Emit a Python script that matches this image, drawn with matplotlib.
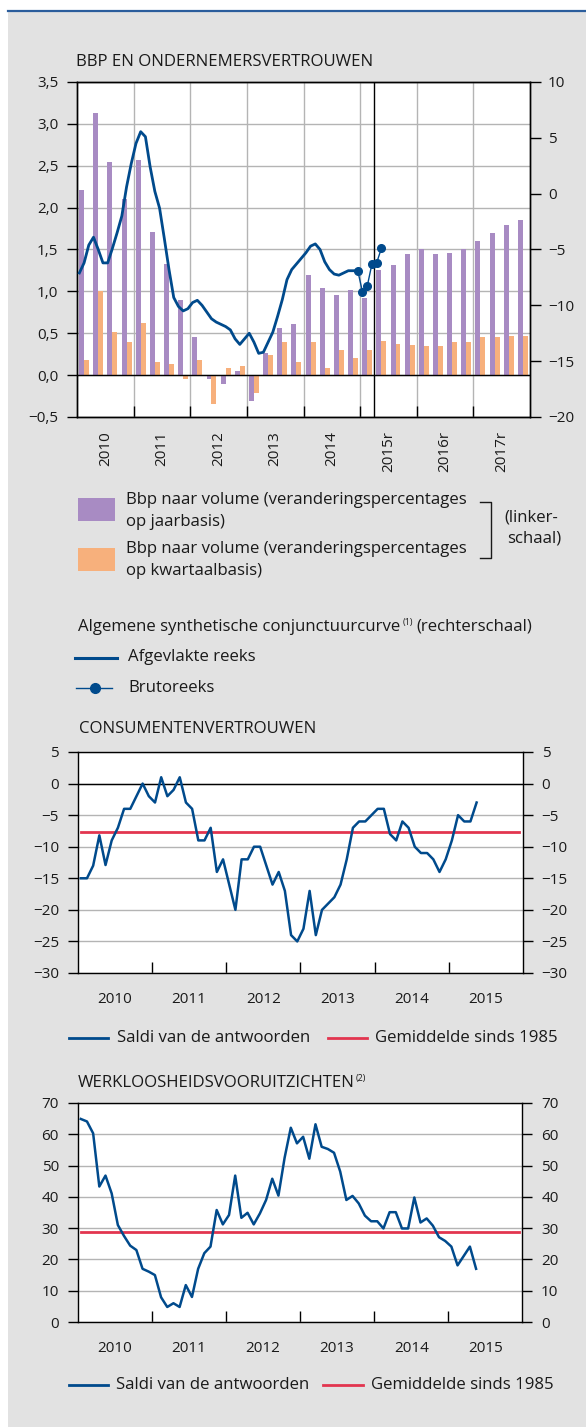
import matplotlib.pyplot as plt
import numpy as np
from matplotlib.patches import Rectangle
from matplotlib.ticker import FuncFormatter

plt.rcParams['font.family'] = ['Open Sans', 'DejaVu Sans']
plt.rcParams['font.size'] = 12.1
plt.rcParams['axes.unicode_minus'] = True

# ---- data ----
gdp_years = ["2010", "2011", "2012", "2013", "2014", "2015r", "2016r", "2017r"]
# quarterly, Q1 2010 - Q4 2017
gdp_yoy = [2.21, 3.13, 2.54, 2.10, 2.57, 1.71, 1.33, 0.90,
           0.45, -0.05, -0.11, 0.05, -0.31, 0.26, 0.56, 0.61,
           1.20, 1.04, 0.96, 1.02, 0.92, 1.25, 1.31, 1.45,
           1.50, 1.45, 1.46, 1.50, 1.60, 1.70, 1.79, 1.85]
gdp_qoq = [0.18, 1.01, 0.52, 0.39, 0.62, 0.16, 0.13, -0.05,
           0.18, -0.34, 0.09, 0.11, -0.21, 0.24, 0.39, 0.16,
           0.39, 0.09, 0.30, 0.21, 0.30, 0.41, 0.37, 0.36,
           0.35, 0.35, 0.39, 0.40, 0.45, 0.45, 0.47, 0.47]
# monthly, Jan 2010 - Dec 2014
conj_smooth = [-7.1, -6.2, -4.6, -3.9, -5.0, -6.2, -6.2, -4.9, -3.5, -2.0, 0.6, 2.7,
               4.5, 5.55, 5.1, 2.4, 0.2, -1.3, -4.0, -6.8, -9.3, -10.1, -10.5, -10.3,
               -9.75, -9.55, -10.0, -10.6, -11.2, -11.5, -11.7, -11.9, -12.2, -13.0, -13.5, -13.0,
               -12.5, -13.3, -14.3, -14.2, -13.3, -12.4, -11.0, -9.5, -7.7, -6.8, -6.3, -5.8,
               -5.3, -4.7, -4.5, -5.0, -6.1, -6.8, -7.2, -7.3, -7.1, -6.9, -6.9, -6.9]
# monthly, Dec 2014 - May 2015
conj_raw = [-6.9, -8.8, -8.3, -6.3, -6.2, -4.9]

conf_years = ["2010", "2011", "2012", "2013", "2014", "2015"]
# monthly, Jan 2010 - May 2015
consumer_conf = [-15, -15, -13, -8.2, -12.9, -9, -7, -4, -4, -2, 0, -2,
                 -3, 1, -2, -1, 1, -3, -4, -9, -9, -7, -14, -12,
                 -16, -20, -12, -12, -10, -10, -13, -16, -14, -17, -24, -25,
                 -23, -17, -24, -20, -19, -18, -16, -12, -7, -6, -6, -5,
                 -4, -4, -8, -9, -6, -7, -10, -11, -11, -12, -14, -12,
                 -9, -5, -6, -6, -3]
consumer_avg = -7.7
unemp_exp = [64.9, 64.1, 60.3, 43.3, 46.8, 41.1, 31.0, 27.5, 24.4, 23.0, 17.0, 16.1,
             15.0, 7.9, 4.8, 6.0, 4.8, 11.8, 8.0, 17.0, 22.0, 24.1, 35.8, 31.2,
             34.2, 46.8, 33.3, 34.9, 31.2, 34.7, 39.0, 45.8, 40.4, 52.5, 62.1, 57.1,
             59.2, 52.2, 63.2, 56.0, 55.3, 54.1, 48.1, 39.0, 40.3, 37.9, 34.0, 32.2,
             32.2, 29.9, 35.1, 35.1, 29.9, 29.9, 39.8, 31.8, 33.1, 30.8, 27.1, 25.9,
             24.1, 18.1, 21.1, 24.1, 17.0]
unemp_avg = 28.8

PURPLE = '#a88bc3'
ORANGE = '#f7b07c'
BLUE = '#004a8c'
RED = '#e2354f'
GRID = '#b4b4b4'
BG = '#e2e2e2'
TXT = '#1a1a1a'
TICK_FS = 11

W, H = 586, 1427
fig = plt.figure(figsize=(W / 100, H / 100), dpi=100)


def box(l, t, r, b):
    return [l / W, 1 - b / H, (r - l) / W, (b - t) / H]


def comma(v, pos):
    s = f"{v:.1f}".replace('.', ',')
    return s.replace('-', '\u2212')


def minus(v, pos):
    return f"{v:.0f}".replace('-', '\u2212')


# background layer in pixel coordinates
bg = fig.add_axes([0, 0, 1, 1], zorder=0)
bg.set_xlim(0, W)
bg.set_ylim(H, 0)
bg.axis('off')
bg.add_patch(Rectangle((8, 12), W - 8, H - 12, color=BG, lw=0))
bg.plot([8, W], [11, 11], color='#2b5d9c', lw=1.6)

renderer = fig.canvas.get_renderer()


def right_end(txt):
    bb = txt.get_window_extent(renderer)
    return bg.transData.inverted().transform((bb.x1, bb.y1))[0]


def text_with_sup(x, y, main, sup, rest=None):
    t = bg.text(x, y, main, va='center', color=TXT)
    xs = right_end(t) + 1.5
    s = bg.text(xs, y - 4.5, sup, fontsize=6.5, va='center', color=TXT)
    if rest:
        bg.text(right_end(s) + 4, y, rest, va='center', color=TXT)


def style_box(ax):
    for sp in ax.spines.values():
        sp.set_color('black')
        sp.set_linewidth(1)


# ---------- chart 1 ----------
ax1 = fig.add_axes(box(77, 82, 530, 417), zorder=2)
q = np.arange(len(gdp_yoy))
ax1.bar(q + 0.5 - 0.175, gdp_yoy, 0.35, color=PURPLE, lw=0, zorder=2)
ax1.bar(q + 0.5 + 0.175, gdp_qoq, 0.35, color=ORANGE, lw=0, zorder=2)
ax1.set_xlim(0, 32)
ax1.set_ylim(-0.5, 3.5)
ax1.set_yticks(np.arange(-0.5, 3.51, 0.5))
ax1.yaxis.set_major_formatter(FuncFormatter(comma))
ax1.set_xticks(np.arange(4, 32, 4))
ax1.set_xticks(np.arange(len(gdp_years)) * 4 + 2, gdp_years, minor=True)
ax1.grid(True, which='major', color=GRID, lw=1)
ax1.set_axisbelow(True)
ax1.axhline(0, color='black', lw=1, zorder=3)
ax1.axvline(21, color='black', lw=1, zorder=3)
ax1.tick_params(axis='x', which='major', direction='in', length=8, width=1, labelbottom=False)
ax1.tick_params(axis='x', which='minor', length=0, rotation=90, pad=10, labelsize=TICK_FS, labelcolor=TXT)
ax1.tick_params(axis='y', direction='out', length=7.5, width=1, pad=6, labelsize=TICK_FS, labelcolor=TXT)
style_box(ax1)

ax2 = ax1.twinx()
ax2.set_ylim(-20, 10)
ax2.set_yticks(np.arange(-20, 11, 5))
ax2.yaxis.set_major_formatter(FuncFormatter(minus))
ax2.tick_params(axis='y', direction='out', length=8, width=1, pad=5, labelsize=TICK_FS, labelcolor=TXT)
m_s = (np.arange(len(conj_smooth)) + 0.5) / 3
ax2.plot(m_s, conj_smooth, color=BLUE, lw=2, solid_joinstyle='round', zorder=4)
m_r = (np.arange(len(conj_raw)) + len(conj_smooth) - 1 + 0.5) / 3
ax2.plot(m_r, conj_raw, color=BLUE, lw=1, marker='o', ms=5.5, zorder=5)
style_box(ax2)

bg.text(76, 61.5, "BBP EN ONDERNEMERSVERTROUWEN", va='center', color=TXT)

# legend of chart 1
bg.add_patch(Rectangle((78.3, 498.3), 36.7, 22.4, color=PURPLE, lw=0))
bg.add_patch(Rectangle((78.3, 548.3), 36.7, 22.4, color=ORANGE, lw=0))
bg.text(126.3, 500, "Bbp naar volume (veranderingspercentages", va='center', color=TXT)
bg.text(126.3, 521.7, "op jaarbasis)", va='center', color=TXT)
bg.text(126.3, 549.3, "Bbp naar volume (veranderingspercentages", va='center', color=TXT)
bg.text(126.3, 571, "op kwartaalbasis)", va='center', color=TXT)
bg.plot([479.5, 490.7, 490.7, 479.5], [501.7, 501.7, 557.7, 557.7], color=TXT, lw=1)
bg.text(504.5, 517.7, "(linker-", va='center', color=TXT)
bg.text(507, 538.5, "schaal)", va='center', color=TXT)

text_with_sup(78.5, 626.7, "Algemene synthetische conjunctuurcurve", "(1)", "(rechterschaal)")
bg.plot([74.7, 116.6], [657.7, 657.7], color=BLUE, lw=2.2)
bg.text(128, 656.7, "Afgevlakte reeks", va='center', color=TXT)
bg.plot([75.5, 112], [688.3, 688.3], color=BLUE, lw=1)
bg.plot([95.3], [688.3], color=BLUE, marker='o', ms=7)
bg.text(128, 688, "Brutoreeks", va='center', color=TXT)


def monthly_chart(top, bottom, right, values, avg, ylo, yhi, step, zero_line):
    ax = fig.add_axes(box(77.7, top, right, bottom), zorder=2)
    x = 2010 + (np.arange(len(values)) + 0.5) / 12
    ax.plot(x, values, color=BLUE, lw=1.8, zorder=4)
    ax.axhline(avg, xmin=0.008, xmax=0.992, color=RED, lw=2, zorder=3)
    if zero_line:
        ax.axhline(0, color='black', lw=1, zorder=3)
    ax.set_xlim(2010, 2016)
    ax.set_ylim(ylo, yhi)
    ax.set_yticks(np.arange(ylo, yhi + 0.1, step))
    ax.yaxis.set_major_formatter(FuncFormatter(minus))
    ax.set_xticks(np.arange(2011, 2016))
    ax.set_xticks(np.arange(2010, 2016) + 0.5, conf_years, minor=True)
    ax.yaxis.grid(True, color=GRID, lw=1)
    ax.set_axisbelow(True)
    ax.tick_params(axis='x', which='major', direction='in', length=8, width=1, labelbottom=False)
    ax.tick_params(axis='x', which='minor', length=0, pad=14, labelsize=TICK_FS, labelcolor=TXT)
    ax.tick_params(axis='y', direction='out', length=7.5, width=1, pad=6, labelsize=TICK_FS,
                   labelcolor=TXT, right=True, labelright=True)
    style_box(ax)
    return ax


# ---------- chart 2 ----------
bg.text(79, 729.3, "CONSUMENTENVERTROUWEN", va='center', color=TXT)
monthly_chart(752, 973, 523, consumer_conf, consumer_avg, -30, 5, 5, True)
bg.plot([69, 108.4], [1037.7, 1037.7], color=BLUE, lw=2)
bg.text(117, 1037.7, "Saldi van de antwoorden", va='center', color=TXT)
bg.plot([327.7, 367.4], [1037.7, 1037.7], color=RED, lw=2)
bg.text(374.8, 1037.7, "Gemiddelde sinds 1985", va='center', color=TXT)

# ---------- chart 3 ----------
text_with_sup(77.3, 1082.7, "WERKLOOSHEIDSVOORUITZICHTEN", "(2)")
monthly_chart(1103, 1322, 522.4, unemp_exp, unemp_avg, 0, 70, 10, False)
bg.plot([69, 108], [1385, 1385], color=BLUE, lw=2)
bg.text(115.8, 1385, "Saldi van de antwoorden", va='center', color=TXT)
bg.plot([323, 362.5], [1385, 1385], color=RED, lw=2)
bg.text(371, 1385, "Gemiddelde sinds 1985", va='center', color=TXT)

fig.savefig('out.png', dpi=100, facecolor='white')
